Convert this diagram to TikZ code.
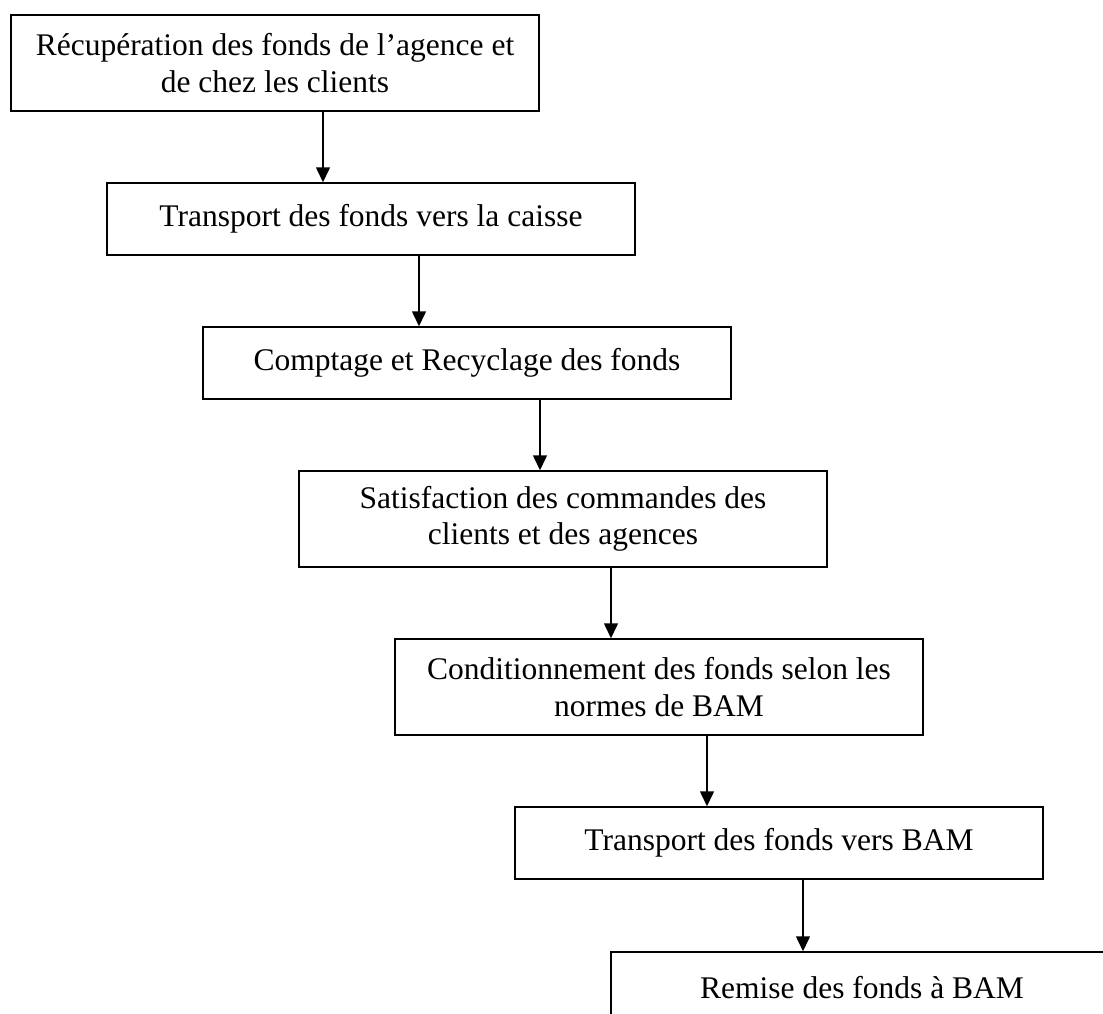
\documentclass[tikz,border=0pt]{standalone}
\usepackage{fontspec}
\setmainfont{Liberation Serif}
\usetikzlibrary{arrows.meta}
\tikzset{
  stepbox/.style={draw=black, line width=1.5pt, rectangle, minimum width=528pt, inner sep=0pt,
    align=center, font=\fontsize{31.5pt}{36.5pt}\selectfont},
  onel/.style={minimum height=72pt},
  twol/.style={minimum height=96pt},
  arr/.style={line width=1.5pt, -{Triangle[width=14pt,length=15pt]}}
}
\begin{document}
\begin{tikzpicture}[x=1pt,y=-1pt]
\clip (0,0) rectangle (1103,1014);
\fill[white] (0,0) rectangle (1103,1014);
\node[stepbox,twol] (b1) at (275,63) {Récupération des fonds de l’agence et\\de chez les clients};
\node[stepbox,onel] (b2) at (371,219) {Transport des fonds vers la caisse};
\node[stepbox,onel] (b3) at (467,363) {Comptage et Recyclage des fonds};
\node[stepbox,twol] (b4) at (563,519) {Satisfaction des commandes des\\clients et des agences};
\node[stepbox,twol] (b5) at (659,687) {Conditionnement des fonds selon les\\normes de BAM};
\node[stepbox,onel] (b6) at (779,843) {Transport des fonds vers BAM};
\node[stepbox,onel,minimum width=502pt] (b7) at (862,988) {Remise des fonds à BAM};
\coordinate (x1) at (323,0);
\coordinate (x2) at (419,0);
\coordinate (x3) at (540,0);
\coordinate (x4) at (611,0);
\coordinate (x5) at (707,0);
\coordinate (x6) at (803,0);
\draw[arr] (b1.south -| x1) -- (b2.north -| x1);
\draw[arr] (b2.south -| x2) -- (b3.north -| x2);
\draw[arr] (b3.south -| x3) -- (b4.north -| x3);
\draw[arr] (b4.south -| x4) -- (b5.north -| x4);
\draw[arr] (b5.south -| x5) -- (b6.north -| x5);
\draw[arr] (b6.south -| x6) -- (b7.north -| x6);
\end{tikzpicture}
\end{document}
